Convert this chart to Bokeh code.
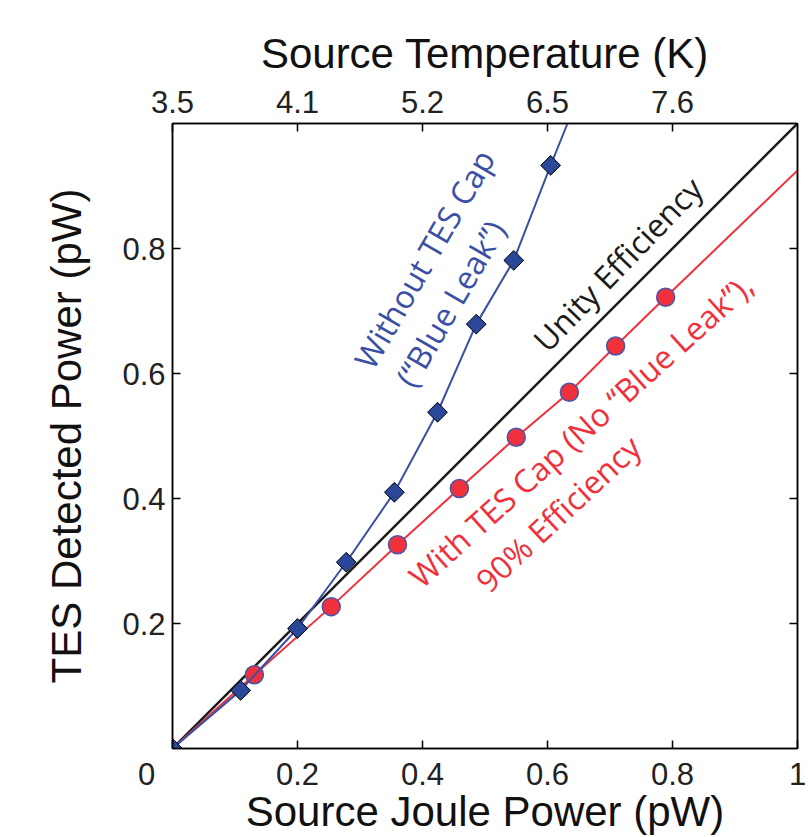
from bokeh.plotting import figure
from bokeh.models import Range1d, LinearAxis, FixedTicker, Label
from bokeh.embed import file_html
from bokeh.resources import INLINE

# ---- data ----
# Without TES cap ("blue leak"): source Joule power vs detected power (pW)
blue_joule = [0.0, 0.109, 0.200, 0.278, 0.355, 0.424, 0.486, 0.546, 0.605]
blue_detected = [0.0, 0.093, 0.192, 0.298, 0.410, 0.538, 0.679, 0.781, 0.933]
# continuation of the blue curve up to the top of the axes
blue_curve_end_joule = [0.632]
blue_curve_end_detected = [1.0]

# With TES cap (no blue leak), ~90% efficiency
red_joule = [0.131, 0.254, 0.360, 0.459, 0.550, 0.635, 0.709, 0.789]
red_detected = [0.118, 0.227, 0.326, 0.416, 0.498, 0.570, 0.644, 0.722]
red_curve_start = [0.0]
red_curve_end_joule = [1.0]
red_curve_end_detected = [0.925]

# unity efficiency
unity_joule = [0.0, 1.0]
unity_detected = [0.0, 1.0]

# ticks
x_ticks = [0.0, 0.2, 0.4, 0.6, 0.8, 1.0]
x_tick_labels = ["0\u2007\u2007\u2007", "0.2", "0.4", "0.6", "0.8", "1"]
y_ticks = [0.2, 0.4, 0.6, 0.8]
y_tick_labels = ["0.2", "0.4", "0.6", "0.8"]
temp_ticks = [0.0, 0.2, 0.4, 0.6, 0.8]
temp_labels = ["3.5", "4.1", "5.2", "6.5", "7.6"]

BLUE = "#3a4fa6"
BLUE_MARK = "#2b479a"
RED = "#f0313b"
BLACK = "#1a1a1a"
AX_FONT = "Liberation Sans"
ANN_FONT = "Open Sans"

p = figure(width=808, height=837, x_range=Range1d(0, 1), y_range=Range1d(0, 1),
           output_backend="svg", toolbar_location=None,
           min_border_left=172, min_border_right=11, min_border_top=123, min_border_bottom=89)
p.grid.visible = False
p.outline_line_color = "black"
p.outline_line_width = 1.5
p.background_fill_color = "white"
p.border_fill_color = "white"


def style_axis(ax, label_font_size="42px"):
    ax.axis_line_color = "black"
    ax.axis_line_width = 1.5
    ax.major_tick_in = 8
    ax.major_tick_out = 0
    ax.major_tick_line_color = "black"
    ax.major_tick_line_width = 1.5
    ax.minor_tick_line_color = None
    ax.major_label_text_font = AX_FONT
    ax.major_label_text_font_size = "31px"
    ax.major_label_text_color = "#222222"
    ax.axis_label_text_font = AX_FONT
    ax.axis_label_text_font_size = label_font_size
    ax.axis_label_text_font_style = "normal"
    ax.axis_label_text_color = "#111111"


xa = p.xaxis[0]
xa.ticker = FixedTicker(ticks=x_ticks)
xa.major_label_overrides = {t: l for t, l in zip(x_ticks, x_tick_labels)}
xa.axis_label = "Source Joule Power (pW)"
style_axis(xa)
xa.major_label_standoff = 8
xa.axis_label_standoff = -7

ya = p.yaxis[0]
ya.ticker = FixedTicker(ticks=y_ticks)
ya.major_label_overrides = {t: l for t, l in zip(y_ticks, y_tick_labels)}
ya.axis_label = "TES Detected Power (pW)"
style_axis(ya)
ya.major_label_standoff = 7
ya.axis_label_standoff = 29

top = LinearAxis(ticker=FixedTicker(ticks=temp_ticks),
                 major_label_overrides={t: l for t, l in zip(temp_ticks, temp_labels)},
                 axis_label="Source Temperature (K)")
style_axis(top)
top.major_label_standoff = 11
top.axis_label_standoff = 11
p.add_layout(top, "above")

right = LinearAxis(ticker=FixedTicker(ticks=y_ticks),
                   major_label_overrides={t: "" for t in y_ticks})
style_axis(right)
right.major_label_standoff = 0
p.add_layout(right, "right")

# unity line
p.line(unity_joule, unity_detected, line_color=BLACK, line_width=2.5)

# red curve + points
p.line(red_curve_start + red_joule + red_curve_end_joule,
       red_curve_start + red_detected + red_curve_end_detected,
       line_color=RED, line_width=2)
p.scatter(red_joule, red_detected, marker="circle", size=18,
          fill_color=RED, line_color="#4b55a8", line_width=1.5)

# blue curve + points
p.line(blue_joule + blue_curve_end_joule, blue_detected + blue_curve_end_detected,
       line_color=BLUE, line_width=2)
p.scatter(blue_joule, blue_detected, marker="square", size=14, angle=45, angle_units="deg",
          fill_color=BLUE_MARK, line_color="black", line_width=1)

# annotations
def ann(x, y, text, angle, color, size="32px"):
    p.add_layout(Label(x=x, y=y, text=text, angle=angle, angle_units="deg",
                       text_font=ANN_FONT, text_font_size=size, text_color=color,
                       text_align="left", text_baseline="alphabetic"))

ann(0.304, 0.613, "Without TES Cap", 60, BLUE)
ann(0.370, 0.584, "(\u201cBlue Leak\u201d)", 60, BLUE)
ann(0.586, 0.645, "Unity Efficiency", 46, BLACK)
ann(0.386, 0.269, "With TES Cap (No \u201cBlue Leak\u201d),", 42, RED)
ann(0.493, 0.261, "90% Efficiency", 43, RED)

open("out.html", "w").write(file_html(p, INLINE))
